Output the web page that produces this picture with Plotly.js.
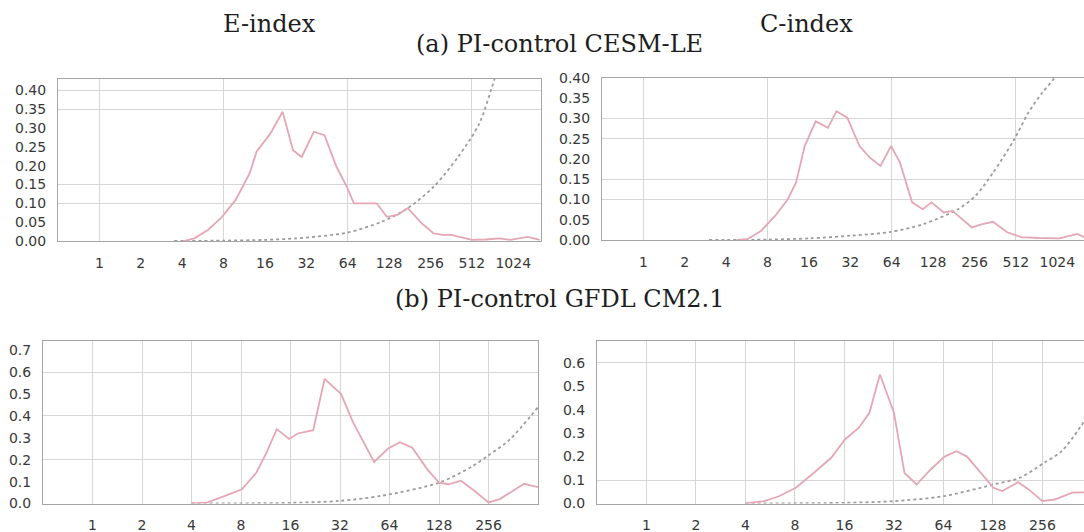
<!DOCTYPE html>
<html><head><meta charset="utf-8">
<script src="https://cdn.plot.ly/plotly-3.0.1.min.js"></script>
<style>html,body{margin:0;padding:0;background:#fff}#chart{width:1084px;height:532px}</style>
</head><body><div id="chart"></div>
<script>
// ---------- data (period in years, wavelet power) ----------
// (a) PI-control CESM-LE, E-index
const cesmEPeriod = [4.1, 4.9, 6.2, 7.8, 9.8, 12.4, 13.9, 17.5, 21.5, 25.6, 29.6, 36.3, 43.4, 53, 63, 71, 85, 104, 123, 147, 175, 221, 270, 313, 362, 512, 648, 814, 975, 1305, 1595];
const cesmEPower  = [0, 0.007, 0.03, 0.064, 0.109, 0.18, 0.237, 0.285, 0.343, 0.241, 0.223, 0.29, 0.281, 0.197, 0.144, 0.10, 0.10, 0.10, 0.064, 0.069, 0.087, 0.047, 0.02, 0.016, 0.016, 0.003, 0.004, 0.007, 0.003, 0.011, 0.003];
const cesmENullPeriod = [3.5, 8, 16, 27, 63, 113, 175, 270, 406, 577, 749, 820];
const cesmENull       = [0, 0.001, 0.003, 0.007, 0.022, 0.051, 0.087, 0.144, 0.223, 0.31, 0.43, 0.47];
// (a) PI-control CESM-LE, C-index
const cesmCPeriod = [4.8, 5.7, 7.2, 9.1, 11.2, 12.9, 14.9, 17.9, 22, 25.4, 30.4, 37.3, 44.5, 53, 63.3, 73.5, 90, 107.6, 124.5, 153, 177, 245, 292, 349, 442, 559, 750, 1067, 1430, 1690];
const cesmCPower  = [0, 0.002, 0.023, 0.06, 0.10, 0.142, 0.232, 0.293, 0.277, 0.318, 0.302, 0.232, 0.203, 0.183, 0.232, 0.191, 0.093, 0.076, 0.093, 0.068, 0.072, 0.031, 0.039, 0.045, 0.019, 0.007, 0.005, 0.004, 0.015, 0.004];
const cesmCNullPeriod = [3, 8, 16, 33, 63, 108, 194, 260, 349, 497, 630, 793, 976, 1150];
const cesmCNull       = [0, 0.001, 0.004, 0.011, 0.02, 0.039, 0.076, 0.109, 0.166, 0.248, 0.314, 0.363, 0.40, 0.44];
// (b) PI-control GFDL CM2.1, E-index
const gfdlEPeriod = [4, 5, 6.4, 8.1, 9.9, 11.4, 13.2, 15.7, 17.7, 20, 22, 25.8, 32.5, 38.5, 51.6, 62.5, 74, 88, 109, 128, 146, 174, 211, 256, 300, 421, 512];
const gfdlEPower  = [0, 0.005, 0.035, 0.065, 0.14, 0.23, 0.34, 0.295, 0.32, 0.33, 0.335, 0.57, 0.50, 0.37, 0.19, 0.25, 0.28, 0.255, 0.155, 0.095, 0.088, 0.104, 0.057, 0.005, 0.02, 0.09, 0.075];
const gfdlENullPeriod = [4, 16, 32, 57, 128, 204, 256, 342, 512];
const gfdlENull       = [0, 0.003, 0.012, 0.035, 0.095, 0.17, 0.22, 0.29, 0.44];
// (b) PI-control GFDL CM2.1, C-index
const gfdlCPeriod = [4, 5.2, 6.4, 8.1, 10.4, 13.3, 16.1, 19.6, 22.7, 26.3, 32, 37.1, 44, 53.5, 65, 77, 89, 109, 129, 146, 182, 211, 256, 304, 388, 468];
const gfdlCPower  = [0, 0.01, 0.031, 0.067, 0.13, 0.195, 0.273, 0.323, 0.387, 0.55, 0.387, 0.13, 0.081, 0.145, 0.2, 0.223, 0.2, 0.13, 0.067, 0.053, 0.091, 0.06, 0.01, 0.017, 0.046, 0.048];
const gfdlCNullPeriod = [4, 16, 32, 64, 129, 187, 263, 335, 468];
const gfdlCNull       = [0, 0.003, 0.01, 0.031, 0.081, 0.11, 0.174, 0.223, 0.358];

// ---------- tick labels ----------
const periodLabelsA = ['1', '2', '4', '8', '16', '32', '64', '128', '256', '512', '1024'];
const periodLabelsB = ['1', '2', '4', '8', '16', '32', '64', '128', '256'];
const powerLabelsA  = ['0.00', '0.05', '0.10', '0.15', '0.20', '0.25', '0.30', '0.35', '0.40'];
const powerLabelsBE = ['0.0', '0.1', '0.2', '0.3', '0.4', '0.5', '0.6', '0.7'];
const powerLabelsBC = ['0.0', '0.1', '0.2', '0.3', '0.4', '0.5', '0.6'];
const gridA  = [1, 8, 64, 512];
const gridB  = [1, 2, 4, 8, 16, 32, 64, 128, 256];
const ygridAE = [0.10, 0.15, 0.35, 0.40];
const ygridAC = [0.10, 0.15, 0.25, 0.30];
const ygridBE = [0.2, 0.4, 0.6];
const ygridBC = [0.1, 0.6];

const titles = ['E-index', 'C-index', '(a) PI-control CESM-LE', '(b) PI-control GFDL CM2.1'];

// ---------- styling ----------
const W = 1084, H = 532;
const PINK = '#e4a7b6', GREY = '#9c9c9c';
const tickFont = {family: 'DejaVu Sans, sans-serif', size: 14, color: '#383838'};
const lg = v => Math.log10(v);

function xAx(x0, x1, rMax, labels, grid, anchor) {
  return {
    type: 'log', domain: [x0 / W, x1 / W], range: [lg(0.5), lg(rMax)], anchor: anchor,
    tickmode: 'array', tickvals: labels.map(Number), ticktext: labels,
    showgrid: false, zeroline: false,
    ticks: 'outside', ticklen: 9, tickcolor: 'rgba(0,0,0,0)',
    tickfont: tickFont,
    showline: true, linecolor: '#a5a5a5', linewidth: 1, mirror: true,
    minor: {tickmode: 'array', tickvals: grid, ticks: 'inside', ticklen: 0,
            showgrid: true, gridcolor: '#d6d6d6', gridwidth: 1}
  };
}
function yAx(y0, y1, rMax, labels, grid, anchor) {
  return {
    domain: [1 - y1 / H, 1 - y0 / H], range: [0, rMax], anchor: anchor,
    tickmode: 'array', tickvals: labels.map(Number), ticktext: labels,
    showgrid: false, zeroline: false,
    ticks: 'outside', ticklen: 8, tickcolor: 'rgba(0,0,0,0)',
    tickfont: tickFont,
    showline: true, linecolor: '#a5a5a5', linewidth: 1, mirror: true,
    minor: {tickmode: 'array', tickvals: grid, ticks: 'inside', ticklen: 0,
            showgrid: true, gridcolor: '#d6d6d6', gridwidth: 1}
  };
}

function pair(px, py, nx, ny, xa, ya) {
  return [
    {x: nx, y: ny, xaxis: xa, yaxis: ya, type: 'scatter', mode: 'lines',
     line: {color: GREY, width: 1.8, dash: 'dot', shape: 'spline', smoothing: 0.8}, hoverinfo: 'skip'},
    {x: px, y: py, xaxis: xa, yaxis: ya, type: 'scatter', mode: 'lines',
     line: {color: PINK, width: 1.8}, hoverinfo: 'skip'}
  ];
}

const data = [].concat(
  pair(cesmEPeriod, cesmEPower, cesmENullPeriod, cesmENull, 'x', 'y'),
  pair(cesmCPeriod, cesmCPower, cesmCNullPeriod, cesmCNull, 'x2', 'y2'),
  pair(gfdlEPeriod, gfdlEPower, gfdlENullPeriod, gfdlENull, 'x3', 'y3'),
  pair(gfdlCPeriod, gfdlCPower, gfdlCNullPeriod, gfdlCNull, 'x4', 'y4')
);

const serif = 'DejaVu Serif, serif';
function title(text, cx, cy) {
  return {text: text, x: cx / W, y: 1 - cy / H, xref: 'paper', yref: 'paper', showarrow: false,
          xanchor: 'center', yanchor: 'middle', font: {family: serif, size: 24, color: '#1e1e1e'}};
}
const layout = {
  width: W, height: H, margin: {l: 0, r: 0, t: 0, b: 0},
  paper_bgcolor: '#fff', plot_bgcolor: '#fff', showlegend: false,
  xaxis:  xAx(58, 541, Math.pow(2, 10.67), periodLabelsA, gridA, 'y'),
  yaxis:  yAx(79, 241, 0.43, powerLabelsA, ygridAE, 'x'),
  xaxis2: xAx(602, 1084, Math.pow(2, 10.645), periodLabelsA, gridA, 'y2'),
  yaxis2: yAx(78, 240, 0.40, powerLabelsA, ygridAC, 'x2'),
  xaxis3: xAx(43, 538, Math.pow(2, 9), periodLabelsB, gridB, 'y3'),
  yaxis3: yAx(340.5, 503.5, 0.745, powerLabelsBE, ygridBE, 'x3'),
  xaxis4: xAx(597, 1084, Math.pow(2, 8.84), periodLabelsB, gridB, 'y4'),
  yaxis4: yAx(340.5, 503.5, 0.695, powerLabelsBC, ygridBC, 'x4'),
  annotations: [
    title(titles[0], 269, 24),
    title(titles[1], 806, 24),
    title(titles[2], 559, 44),
    title(titles[3], 559, 299)
  ]
};

Plotly.newPlot('chart', data, layout, {staticPlot: true, displayModeBar: false});
</script></body></html>
